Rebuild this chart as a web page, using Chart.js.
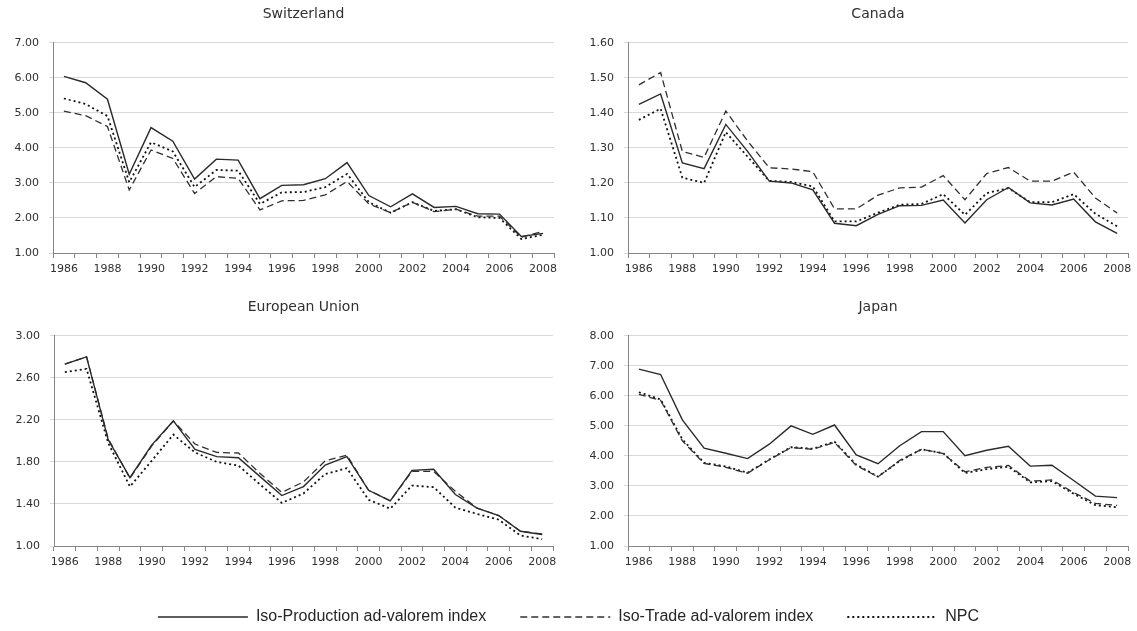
<!DOCTYPE html>
<html>
<head>
<meta charset="utf-8">
<script src="https://cdn.jsdelivr.net/npm/chart.js@4/dist/chart.umd.min.js"></script>
<style>
  html, body { margin: 0; padding: 0; background: #fff; overflow: hidden; }
  .panel { position: absolute; }
</style>
</head>
<body>
<div class="panel" style="left:0;top:0;width:568px;height:290px"><canvas id="swChart"></canvas></div>
<div class="panel" style="left:570px;top:0;width:567px;height:290px"><canvas id="caChart"></canvas></div>
<div class="panel" style="left:0;top:293px;width:568px;height:290px"><canvas id="euChart"></canvas></div>
<div class="panel" style="left:570px;top:293px;width:567px;height:290px"><canvas id="jpChart"></canvas></div>
<div class="panel" style="left:0;top:575px;width:1137px;height:140px"><canvas id="legendChart"></canvas></div>

<script>
// =============================
// DATA
// =============================
const years = ['1986','1987','1988','1989','1990','1991','1992','1993','1994','1995','1996','1997',
  '1998','1999','2000','2001','2002','2003','2004','2005','2006','2007','2008'];

const seriesNames = ['Iso-Production ad-valorem index', 'Iso-Trade ad-valorem index', 'NPC'];

// Switzerland
const swIsoProd  = [6.04, 5.86, 5.39, 3.25, 4.58, 4.19, 3.11, 3.68, 3.65, 2.55, 2.93, 2.95, 3.12, 3.58, 2.64, 2.32, 2.69, 2.30, 2.33, 2.12, 2.11, 1.47, 1.56];
const swIsoTrade = [5.05, 4.92, 4.61, 2.80, 3.94, 3.70, 2.70, 3.18, 3.13, 2.23, 2.49, 2.50, 2.66, 3.04, 2.40, 2.15, 2.45, 2.18, 2.25, 2.05, 2.05, 1.45, 1.62];
const swNpc      = [5.41, 5.25, 4.91, 3.02, 4.16, 3.90, 2.88, 3.37, 3.35, 2.40, 2.73, 2.74, 2.88, 3.26, 2.45, 2.15, 2.45, 2.20, 2.25, 2.02, 2.00, 1.40, 1.52];
const swTicks    = { min: 1, max: 7, step: 1 };

// Canada
const caIsoProd  = [1.424, 1.454, 1.257, 1.241, 1.367, 1.290, 1.205, 1.200, 1.180, 1.085, 1.078, 1.110, 1.135, 1.136, 1.151, 1.086, 1.152, 1.187, 1.143, 1.137, 1.154, 1.089, 1.056];
const caIsoTrade = [1.480, 1.515, 1.290, 1.273, 1.405, 1.320, 1.243, 1.240, 1.232, 1.126, 1.126, 1.165, 1.186, 1.188, 1.221, 1.152, 1.227, 1.244, 1.205, 1.205, 1.231, 1.157, 1.114];
const caNpc      = [1.380, 1.412, 1.215, 1.200, 1.345, 1.275, 1.206, 1.203, 1.190, 1.090, 1.090, 1.115, 1.138, 1.140, 1.168, 1.109, 1.171, 1.185, 1.145, 1.145, 1.168, 1.112, 1.076];
const caTicks    = { min: 1, max: 1.6, step: 0.1 };

// European Union
const euIsoProd  = [2.73, 2.80, 2.01, 1.65, 1.96, 2.19, 1.92, 1.85, 1.84, 1.66, 1.48, 1.565, 1.77, 1.85, 1.53, 1.43, 1.72, 1.73, 1.49, 1.36, 1.29, 1.14, 1.11];
const euIsoTrade = [2.73, 2.80, 2.02, 1.645, 1.95, 2.19, 1.97, 1.89, 1.885, 1.69, 1.51, 1.61, 1.81, 1.865, 1.53, 1.43, 1.71, 1.71, 1.52, 1.36, 1.29, 1.14, 1.115];
const euNpc      = [2.655, 2.685, 1.98, 1.565, 1.81, 2.06, 1.89, 1.80, 1.765, 1.585, 1.41, 1.50, 1.685, 1.74, 1.44, 1.355, 1.575, 1.56, 1.365, 1.305, 1.25, 1.10, 1.065];
const euTicks    = { min: 1, max: 3, step: 0.4 };

// Japan
const jpIsoProd  = [6.89, 6.71, 5.20, 4.26, 4.09, 3.91, 4.39, 5.00, 4.72, 5.03, 4.03, 3.74, 4.34, 4.81, 4.81, 4.01, 4.19, 4.32, 3.66, 3.69, 3.18, 2.66, 2.61];
const jpIsoTrade = [6.05, 5.85, 4.50, 3.75, 3.62, 3.42, 3.87, 4.28, 4.22, 4.45, 3.68, 3.30, 3.85, 4.22, 4.08, 3.47, 3.62, 3.68, 3.16, 3.20, 2.78, 2.42, 2.35];
const jpNpc      = [6.12, 5.88, 4.55, 3.77, 3.65, 3.44, 3.88, 4.29, 4.24, 4.47, 3.71, 3.31, 3.83, 4.22, 4.09, 3.43, 3.56, 3.64, 3.12, 3.16, 2.74, 2.36, 2.29];
const jpTicks    = { min: 1, max: 8, step: 1 };

// =============================
// STYLES
// =============================
const TEXT = '#303030';
const AXIS = '#868686';
const GRID = '#d9d9d9';
const tickFont = { family: 'DejaVu Sans', size: 11 };

const lineStyles = [
  { borderColor: '#2a2a2a', borderWidth: 1.4, borderDash: [] },
  { borderColor: '#303030', borderWidth: 1.3, borderDash: [7, 4] },
  { borderColor: '#111111', borderWidth: 1.8, borderDash: [2, 3] }
];

function makeDatasets(values) {
  return values.map((data, i) => ({
    label: seriesNames[i],
    data,
    ...lineStyles[i],
    pointRadius: 0,
    tension: 0,
    fill: false
  }));
}

// =============================
// PANELS
// =============================
function makePanel(id, title, values, t, yWidth, rightPad) {
  new Chart(document.getElementById(id), {
    type: 'line',
    data: { labels: years, datasets: makeDatasets(values) },
    options: {
      responsive: true,
      maintainAspectRatio: false,
      animation: false,
      events: [],
      layout: { padding: { left: 0, right: rightPad, top: 0, bottom: 0 } },
      plugins: {
        legend: { display: false },
        tooltip: { enabled: false },
        title: {
          display: true,
          text: title,
          fullSize: false,
          color: TEXT,
          font: { family: 'DejaVu Sans', size: 14, weight: 'normal' },
          padding: { top: 6, bottom: 20 }
        }
      },
      scales: {
        x: {
          offset: true,
          grid: { offset: true, drawOnChartArea: false, drawTicks: true, tickLength: 5, color: AXIS },
          border: { color: AXIS, width: 1 },
          ticks: {
            autoSkip: false,
            maxRotation: 0,
            padding: 5,
            color: TEXT,
            font: tickFont,
            callback: function (v) {
              const y = this.getLabelForValue(v);
              return Number(y) % 2 === 0 ? y : '';
            }
          },
          afterFit: s => { s.height = 37; }
        },
        y: {
          min: t.min,
          max: t.max,
          grid: { color: GRID, lineWidth: 1, tickLength: 4 },
          border: { color: AXIS, width: 1 },
          ticks: {
            stepSize: t.step,
            padding: 10,
            color: TEXT,
            font: tickFont,
            callback: v => Number(v).toFixed(2)
          },
          afterFit: s => { s.width = yWidth; }
        }
      }
    }
  });
}

makePanel('swChart', 'Switzerland', [swIsoProd, swIsoTrade, swNpc], swTicks, 53, 14);
makePanel('caChart', 'Canada', [caIsoProd, caIsoTrade, caNpc], caTicks, 58, 9);
makePanel('euChart', 'European Union', [euIsoProd, euIsoTrade, euNpc], euTicks, 54, 15);
makePanel('jpChart', 'Japan', [jpIsoProd, jpIsoTrade, jpNpc], jpTicks, 58, 9);

// =============================
// SHARED LEGEND
// =============================
new Chart(document.getElementById('legendChart'), {
  type: 'line',
  data: { labels: [], datasets: makeDatasets([[], [], []]) },
  options: {
    responsive: true,
    maintainAspectRatio: false,
    animation: false,
    events: [],
    scales: { x: { display: false }, y: { display: false } },
    plugins: {
      tooltip: { enabled: false },
      legend: {
        display: true,
        position: 'top',
        labels: {
          usePointStyle: true,
          pointStyle: 'line',
          pointStyleWidth: 90,
          boxHeight: 16,
          padding: 34,
          color: '#262626',
          font: { family: 'Liberation Sans', size: 16 },
          generateLabels: chart => chart.data.datasets.map((ds, i) => ({
            text: ds.label,
            strokeStyle: ds.borderColor,
            lineWidth: ds.borderWidth,
            lineDash: ds.borderDash,
            pointStyle: 'line',
            fontColor: '#262626',
            hidden: false,
            datasetIndex: i
          }))
        }
      }
    }
  }
});
</script>
</body>
</html>
